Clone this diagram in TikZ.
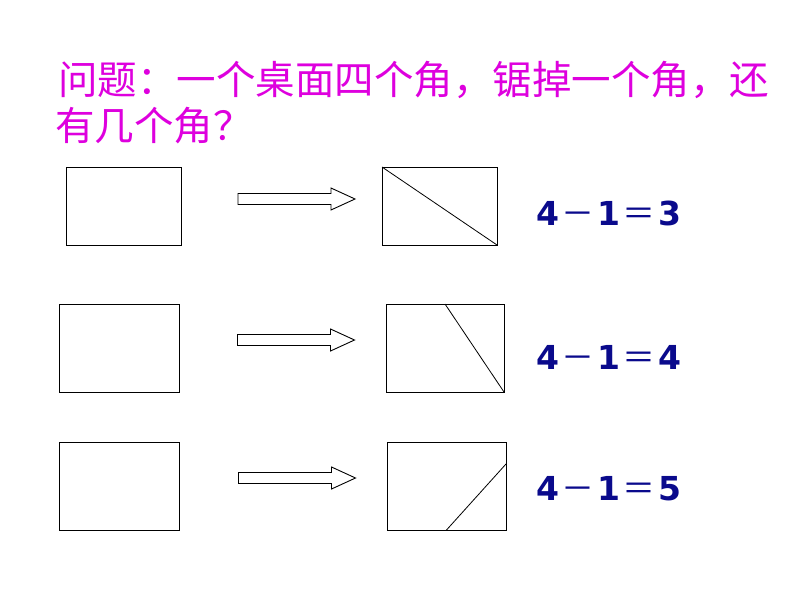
\documentclass[tikz,border=0pt]{standalone}
\usepackage{fontspec}
\newfontfamily\cjk{Noto Sans CJK SC}
\newfontfamily\eqfont{DejaVu Sans}
\usetikzlibrary{calc}
\definecolor{titlemag}{RGB}{222,0,222}
\definecolor{eqblue}{RGB}{10,10,140}
\tikzset{
  box/.style={draw=black, line width=0.9pt, inner sep=0pt, outer sep=0pt},
  cut/.style={draw=black, line width=0.8pt},
  blockarrow/.style={draw=black, line width=0.9pt, fill=white, line join=miter},
  titletext/.style={text=titlemag, inner sep=0pt, anchor=base west, font=\cjk\fontsize{39.5}{39.5}\selectfont},
  eqtext/.style={text=eqblue, inner sep=0pt, anchor=base west, font=\eqfont\bfseries\fontsize{33}{33}\selectfont}
}
\newcommand\myarrow[2]{% #1 = left x, #2 = centre y
  \path[blockarrow] (#1,#2-5.5) -- ++(93,0) -- ++(0,-5.5) -- (#1+117,#2) -- (#1+93,#2+11) -- ++(0,-5.5) -- (#1,#2+5.5) -- cycle;}
\newcommand\eqn[1]{4\kern2.5pt{\cjk\mdseries －}\kern2.5pt1\kern2.5pt{\cjk\mdseries ＝}\kern2.5pt#1}
\begin{document}
\begin{tikzpicture}[x=1pt,y=-1pt]
\fill[white] (0,0) rectangle (794,596);
\useasboundingbox (0,0) rectangle (794,596);
% title
\node[titletext] (t1) at (58,95) {问题：一个桌面四个角，锯掉一个角，还};
\node[titletext] (t2) at (55,140.5) {有几个角？};
% row 1
\node[box, minimum width=115pt, minimum height=78pt] (L1) at (123.5,206) {};
\node[box, minimum width=115pt, minimum height=78pt] (R1) at (439.5,206) {};
\draw[cut] (R1.north west) -- (R1.south east);
\myarrow{238}{199}
\node[eqtext] (e1) at (536,225) {\eqn{3}};
% row 2
\node[box, minimum width=120pt, minimum height=88pt] (L2) at (119,348) {};
\node[box, minimum width=118pt, minimum height=88pt] (R2) at (445,348) {};
\draw[cut] (R2.north) -- (R2.south east);
\myarrow{237.5}{340}
\node[eqtext] (e2) at (536,369.3) {\eqn{4}};
% row 3
\node[box, minimum width=120pt, minimum height=88pt] (L3) at (119,486) {};
\node[box, minimum width=119pt, minimum height=88pt] (R3) at (446.5,486) {};
\coordinate (c3) at ($(R3.north east)!0.25!(R3.south east)$);
\draw[cut] (c3) -- (R3.south);
\myarrow{238.5}{478}
\node[eqtext] (e3) at (536,500) {\eqn{5}};
\end{tikzpicture}
\end{document}
